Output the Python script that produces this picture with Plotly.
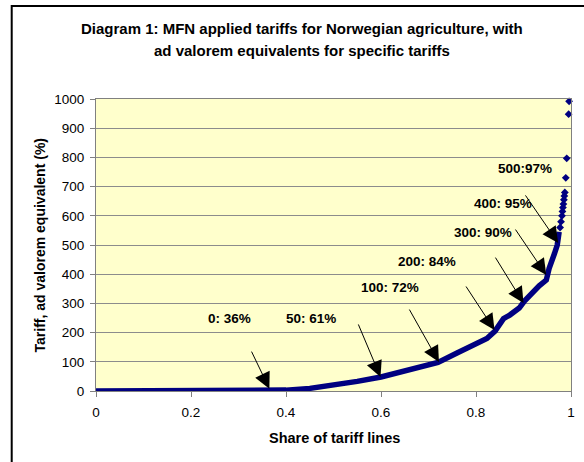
import plotly.graph_objects as go

# Dense part of the tariff curve (share of tariff lines, tariff %)
share = [0.000, 0.360, 0.400, 0.450, 0.500, 0.550, 0.600, 0.650, 0.700, 0.720,
         0.760, 0.780, 0.800, 0.823, 0.840, 0.850, 0.858, 0.871, 0.891, 0.902,
         0.921, 0.933, 0.948, 0.954, 0.965, 0.971, 0.975]
tariff = [0, 0, 3, 9, 20, 33, 48, 70, 90, 98,
          130, 146, 160, 180, 205, 230, 248, 260, 284, 308,
          343, 360, 380, 420, 470, 500, 545]

# Sparse high-tariff lines at the top
share_top = [0.977, 0.979, 0.981, 0.982, 0.983, 0.984, 0.985, 0.986, 0.987,
             0.989, 0.991, 0.995, 0.996]
tariff_top = [560, 580, 600, 615, 628, 640, 655, 668, 680, 730, 797, 948, 992]

# Annotation labels and arrows (data coordinates)
labels = ["0: 36%", "50: 61%", "100: 72%", "200: 84%", "300: 90%", "400: 95%", "500:97%"]
label_x = [0.280, 0.453, 0.618, 0.697, 0.815, 0.856, 0.904]
label_y = [247, 247, 353, 445, 544, 643, 763]
tail_x = [0.326, 0.551, 0.658, 0.777, 0.839, 0.881, 0.902]
tail_y = [140, 233, 284, 363, 462, 558, 675]
head_x = [0.365, 0.599, 0.722, 0.839, 0.900, 0.948, 0.973]
head_y = [8, 48, 99, 209, 301, 397, 507]

x_ticks = [0, 0.2, 0.4, 0.6, 0.8, 1]
x_ticktext = ["0", "0.2", "0.4", "0.6", "0.8", "1"]
y_ticks = [0, 100, 200, 300, 400, 500, 600, 700, 800, 900, 1000]

title_lines = ["Diagram 1: MFN applied tariffs for Norwegian agriculture, with",
               "ad valorem equivalents for specific tariffs"]
x_title = "Share of tariff lines"
y_title = "Tariff, ad valorem equivalent (%)"

FONT = "Arial, 'Liberation Sans', sans-serif"
NAVY = "#000080"
GRID = "#8c8c8c"
AXIS = "#808080"

W, H = 584, 462
L, R, T, B = 96, 9, 99, 71
pw, ph = W - L - R, H - T - B


def px_to_paper_x(px):
    return (px - L) / pw


def px_to_paper_y(py):
    return (H - B - py) / ph


fig = go.Figure()
fig.add_trace(go.Scatter(x=share, y=tariff, mode="lines",
                         line=dict(color=NAVY, width=5.5), hoverinfo="skip",
                         showlegend=False))
fig.add_trace(go.Scatter(x=share_top, y=tariff_top, mode="markers",
                         marker=dict(color=NAVY, symbol="diamond", size=6),
                         cliponaxis=False, hoverinfo="skip", showlegend=False))

annotations = []
for t, lx, ly in zip(labels, label_x, label_y):
    annotations.append(dict(x=lx, y=ly, xref="x", yref="y", text="<b>%s</b>" % t,
                            showarrow=False, xanchor="center", yanchor="middle",
                            font=dict(family=FONT, size=13.5, color="black")))
for tx, ty, hx, hy in zip(tail_x, tail_y, head_x, head_y):
    annotations.append(dict(x=hx, y=hy, xref="x", yref="y", ax=tx, ay=ty,
                            axref="x", ayref="y", text="", showarrow=True,
                            arrowhead=2, arrowsize=3.2, arrowwidth=1, arrowcolor="black",
                            standoff=0, startstandoff=0))

annotations.append(dict(x=px_to_paper_x(304), y=px_to_paper_y(29), xref="paper", yref="paper",
                        text="<b>%s</b>" % title_lines[0], showarrow=False,
                        xanchor="center", yanchor="middle",
                        font=dict(family=FONT, size=15, color="black")))
annotations.append(dict(x=px_to_paper_x(304), y=px_to_paper_y(50), xref="paper", yref="paper",
                        text="<b>%s</b>" % title_lines[1], showarrow=False,
                        xanchor="center", yanchor="middle",
                        font=dict(family=FONT, size=15, color="black")))
annotations.append(dict(x=px_to_paper_x(337), y=px_to_paper_y(438), xref="paper", yref="paper",
                        text="<b>%s</b>" % x_title, showarrow=False,
                        xanchor="center", yanchor="middle",
                        font=dict(family=FONT, size=14.5, color="black")))
annotations.append(dict(x=px_to_paper_x(40), y=0.5, xref="paper", yref="paper",
                        text="<b>%s</b>" % y_title, showarrow=False, textangle=-90,
                        xanchor="center", yanchor="middle",
                        font=dict(family=FONT, size=14, color="black")))

shapes = [dict(type="rect", xref="paper", yref="paper",
               x0=px_to_paper_x(11), x1=px_to_paper_x(600),
               y0=px_to_paper_y(480), y1=px_to_paper_y(6),
               line=dict(color="black", width=2), fillcolor="rgba(0,0,0,0)", layer="above")]

fig.update_layout(
    width=W, height=H,
    margin=dict(l=L, r=R, t=T, b=B, pad=0),
    paper_bgcolor="white", plot_bgcolor="#FFFFCC",
    font=dict(family=FONT, size=13.5, color="black"),
    annotations=annotations, shapes=shapes,
    hovermode=False,
    xaxis=dict(range=[0, 1], tickvals=x_ticks, ticktext=x_ticktext,
               ticks="outside", ticklen=5, tickcolor=AXIS, ticklabelstandoff=4,
               showgrid=False, zeroline=False, showline=True, linecolor=AXIS,
               linewidth=1, mirror=True, tickfont=dict(size=13.5)),
    yaxis=dict(range=[0, 1000], tickvals=y_ticks,
               ticks="outside", ticklen=5, tickcolor=AXIS, ticklabelstandoff=3,
               showgrid=True, gridcolor=GRID, gridwidth=1, zeroline=False,
               showline=True, linecolor=AXIS, linewidth=1, mirror=True,
               tickfont=dict(size=13.5)),
    showlegend=False,
)

fig.write_html("out.html", config={"displayModeBar": False},
               post_script="document.body.style.margin='0px';document.body.style.overflow='hidden';")
